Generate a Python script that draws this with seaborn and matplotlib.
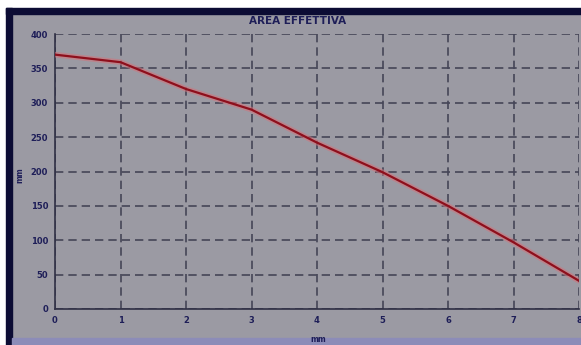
import matplotlib
matplotlib.use("Agg")
import matplotlib.pyplot as plt
import matplotlib.patches as mpatches
import seaborn as sns
import pandas as pd

x_mm = [0, 1, 2, 3, 4, 5, 6, 7, 8]
area = [370, 359, 320, 290, 242, 199, 150, 97, 41]
x_ticks = [0, 1, 2, 3, 4, 5, 6, 7, 8]
y_ticks = [0, 50, 100, 150, 200, 250, 300, 350, 400]
title = "AREA EFFETTIVA"
x_label = "mm"
y_label = "mm"

df = pd.DataFrame({"x": x_mm, "area": area})

sns.set_theme(style="white")
plt.rcParams['font.family'] = ['DejaVu Sans']

BG = "#9b9aa3"
NAVY = "#0c0c34"
GRID = "#454557"
TXT = "#1e1e58"

W, H = 581, 345
fig = plt.figure(figsize=(W / 100, H / 100), dpi=100)
fig.patch.set_facecolor(BG)

def rect(x0, y0, x1, y1, color):
    fig.patches.append(mpatches.Rectangle((x0 / W, 1 - y1 / H), (x1 - x0) / W, (y1 - y0) / H,
                                          transform=fig.transFigure, color=color, zorder=0))

rect(0, 0, W, 8, "white")
rect(0, 0, 6, H, "white")
rect(6, 8, W, 14, NAVY)
rect(6, 8, 12, H, NAVY)
rect(12, 338, W, H, "#8c8cb8")

ax = fig.add_axes([55 / W, 1 - 309 / H, (579 - 55) / W, (309 - 34) / H])
ax.set_facecolor(BG)

sns.lineplot(data=df, x="x", y="area", ax=ax, color="#d4727a", lw=4.0, alpha=0.55, zorder=3)
sns.lineplot(data=df, x="x", y="area", ax=ax, color="#8e0f1c", lw=1.6, zorder=4)

ax.set_xlim(0, 8)
ax.set_ylim(0, 400)
ax.set_xticks(x_ticks)
ax.set_yticks(y_ticks)
ax.set_xticklabels([str(v) for v in x_ticks], fontsize=6, fontweight="bold", color=TXT)
ax.set_yticklabels([str(v) for v in y_ticks], fontsize=6, fontweight="bold", color=TXT)
ax.tick_params(axis="both", which="both", length=3, width=1, color="#303045", pad=2, direction="out")

ax.grid(True, color=GRID, linestyle=(0, (5, 3)), lw=1.2)
for s in ["top", "right"]:
    ax.spines[s].set_visible(False)
for s in ["left", "bottom"]:
    ax.spines[s].set_color("#303045")
    ax.spines[s].set_linewidth(1.2)

ax.set_xlabel("")
ax.set_ylabel("")
fig.text(298 / W, 1 - 21 / H, title, ha="center", va="center", fontsize=7.5, fontweight="bold", color=TXT)
fig.text(318 / W, 1 - 339 / H, x_label, ha="center", va="center", fontsize=5.5, fontweight="bold", color=TXT)
fig.text(20 / W, 1 - 175 / H, y_label, ha="center", va="center", fontsize=5.5, fontweight="bold", color=TXT, rotation=90)

fig.savefig("out.png", dpi=100, facecolor=fig.get_facecolor())
